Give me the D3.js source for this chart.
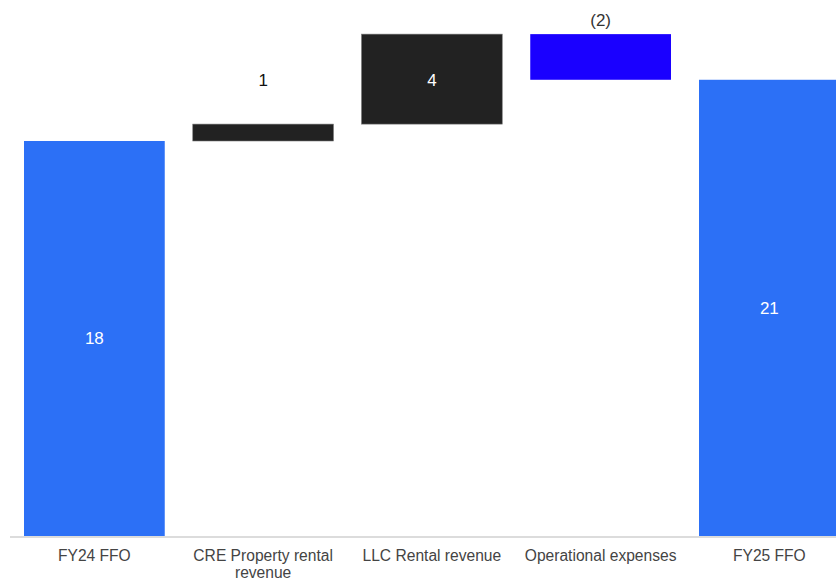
<!DOCTYPE html>
<html>
<head>
<meta charset="utf-8">
<script src="https://cdn.jsdelivr.net/npm/d3@7"></script>
<style>
  html, body { margin: 0; padding: 0; background: #fff; }
  svg { display: block; font-family: "Liberation Sans", Arial, sans-serif; }
</style>
</head>
<body>
<svg id="chart" width="836" height="582"></svg>
<script>
// ---- data ----
const categories = ["FY24 FFO", "CRE Property rental revenue", "LLC Rental revenue", "Operational expenses", "FY25 FFO"];
const kinds = ["total", "delta", "delta", "delta", "total"];
const values = [18.0, 0.77, 4.10, -2.08, 20.79];
const valueLabels = ["18", "1", "4", "(2)", "21"];

// ---- layout ----
const W = 836, H = 582;
const baseY = 536;
const svg = d3.select("#chart");

// build waterfall segments
let running = 0;
const bars = categories.map((c, i) => {
  let y0, y1;
  if (kinds[i] === "total") { y0 = 0; y1 = values[i]; running = values[i]; }
  else { y0 = running; y1 = running + values[i]; running = y1; }
  return { cat: c, kind: kinds[i], v: values[i], lo: Math.min(y0, y1), hi: Math.max(y0, y1), label: valueLabels[i], i };
});

const x = d3.scaleBand().domain(categories).range([10, 853.75]).paddingInner(0.166).paddingOuter(0.083);
const yMax = d3.max(bars, d => d.hi) * 1.068;
const y = d3.scaleLinear().domain([0, yMax]).range([baseY, 0]);

function colorOf(d) {
  if (d.kind === "total") return "#2c70f6";
  return d.v >= 0 ? "#222222" : "#1a00ff";
}

svg.append("g").selectAll("rect").data(bars).join("rect")
  .attr("x", d => x(d.cat))
  .attr("y", d => y(d.hi))
  .attr("width", x.bandwidth())
  .attr("height", d => y(d.lo) - y(d.hi))
  .attr("fill", colorOf)
  .attr("stroke", d => d.kind === "delta" && d.v >= 0 ? "#777" : "none")
  .attr("stroke-width", 0.6);

// baseline
svg.append("line")
  .attr("x1", 10).attr("x2", W)
  .attr("y1", baseY + 1).attr("y2", baseY + 1)
  .attr("stroke", "#dcdcdc").attr("stroke-width", 2);

// value labels
function labelPos(d) {
  const cx = x(d.cat) + x.bandwidth() / 2;
  if (d.kind === "total") return { cx, cy: (y(d.lo) + y(d.hi)) / 2 + 6, fill: "#ffffff" };
  if (d.i === 1) return { cx, cy: y(d.hi) - 38.5, fill: "#111111" };
  if (d.i === 2) return { cx, cy: (y(d.lo) + y(d.hi)) / 2 + 6.5, fill: "#ffffff" };
  return { cx, cy: y(d.hi) - 8.5, fill: "#333333" };
}
svg.append("g").selectAll("text").data(bars).join("text")
  .attr("x", d => labelPos(d).cx)
  .attr("y", d => labelPos(d).cy)
  .attr("text-anchor", "middle")
  .attr("font-size", 17)
  .attr("fill", d => labelPos(d).fill)
  .text(d => d.label);

// category labels (wrapped)
const maxW = 160;
const catG = svg.append("g");
categories.forEach(c => {
  const t = catG.append("text")
    .attr("x", x(c) + x.bandwidth() / 2)
    .attr("y", 561)
    .attr("text-anchor", "middle")
    .attr("font-size", 15.6)
    .attr("fill", "#444");
  const words = c.split(" ");
  let line = [];
  let tspan = t.append("tspan").attr("x", x(c) + x.bandwidth() / 2).attr("dy", 0);
  words.forEach(w => {
    line.push(w);
    tspan.text(line.join(" "));
    if (tspan.node().getComputedTextLength() > maxW && line.length > 1) {
      line.pop();
      tspan.text(line.join(" "));
      line = [w];
      tspan = t.append("tspan").attr("x", x(c) + x.bandwidth() / 2).attr("dy", 17).text(w);
    }
  });
});
</script>
</body>
</html>
